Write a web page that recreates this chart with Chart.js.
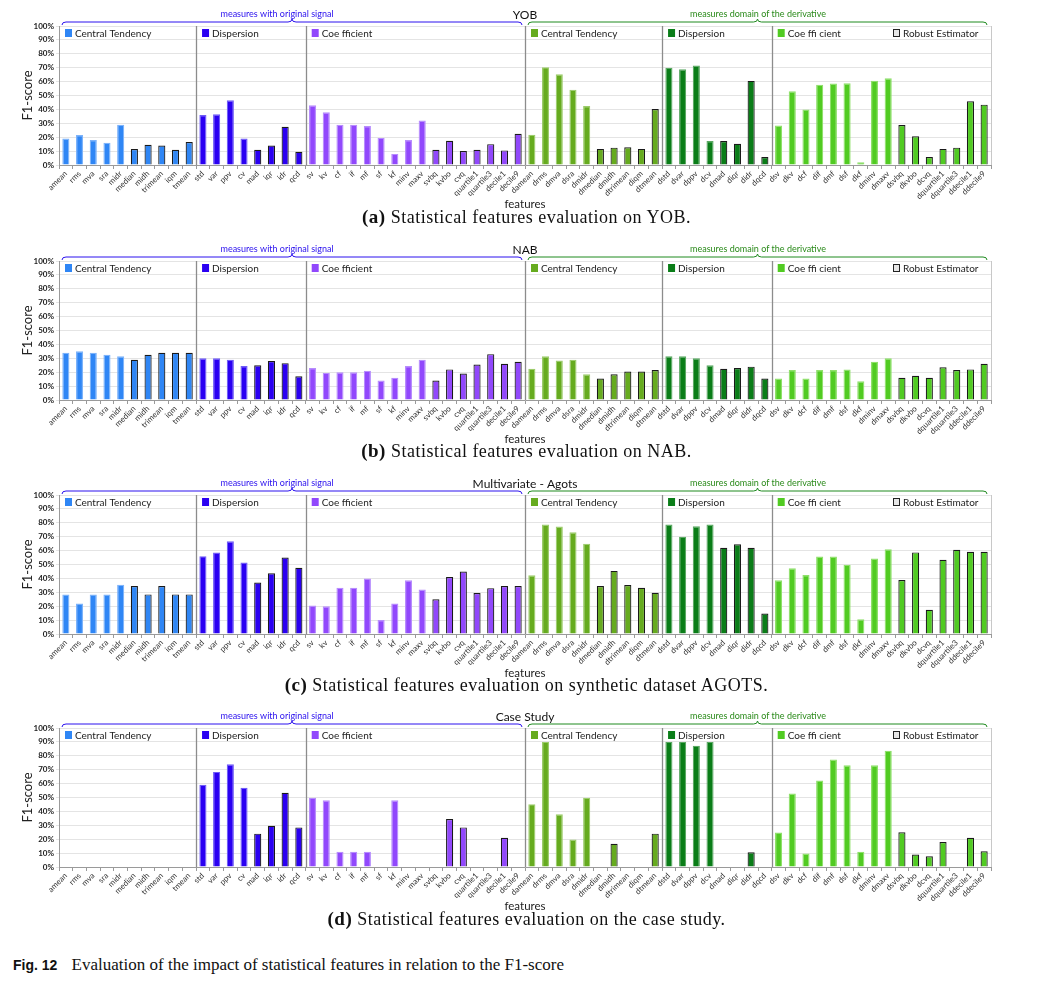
<!DOCTYPE html>
<html>
<head>
<meta charset="utf-8">
<script src="https://cdn.jsdelivr.net/npm/chart.js@4.4.1/dist/chart.umd.min.js"></script>
<style>
  body { margin: 0; background: #fff; }
  #wrap { position: relative; width: 1053px; height: 982px; overflow: hidden; }
  canvas { position: absolute; left: 0; }
  .cap { position: absolute; left: 0; width: 1053px; text-align: center;
         font-family: "Liberation Serif", serif; font-size: 18px; color: #111; letter-spacing: 0.5px; }
  .cap b { font-size: 19px; }
  #fig { position: absolute; left: 13px; top: 955px; font-family: "Liberation Serif", serif; font-size: 17px; color: #111; }
  #fig b { font-family: "Liberation Sans", sans-serif; font-size: 14px; margin-right: 10px; }
</style>
</head>
<body>
<div id="wrap">
  <canvas id="c0" width="1053" height="212" style="top:0px"></canvas>
  <canvas id="c1" width="1053" height="212" style="top:235px"></canvas>
  <canvas id="c2" width="1053" height="212" style="top:469px"></canvas>
  <canvas id="c3" width="1053" height="212" style="top:702px"></canvas>
  <div class="cap" style="top:206px"><b>(a)</b> Statistical features evaluation on YOB.</div>
  <div class="cap" style="top:440px"><b>(b)</b> Statistical features evaluation on NAB.</div>
  <div class="cap" style="top:674px"><b>(c)</b> Statistical features evaluation on synthetic dataset AGOTS.</div>
  <div class="cap" style="top:908px"><b>(d)</b> Statistical features evaluation on the case study.</div>
  <div id="fig"><b>Fig. 12</b> Evaluation of the impact of statistical features in relation to the F1-score</div>
</div>
<script>
// features (original signal), derivative ones get a "d" prefix
const origLabels = ['amean', 'rms', 'mva', 'sra', 'midr', 'median', 'midh', 'trimean', 'iqm', 'tmean',
  'std', 'var', 'ppv', 'cv', 'mad', 'iqr', 'idr', 'qcd',
  'sv', 'kv', 'cf', 'if', 'mf', 'sf', 'kf', 'minv', 'maxv', 'svbq', 'kvbo', 'cvq', 'quartile1', 'quartile3', 'decile1', 'decile9'];
const derivLabels = origLabels.map(l => 'd' + l);
const robustNames = ['median', 'midh', 'trimean', 'iqm', 'tmean', 'mad', 'iqr', 'idr', 'qcd',
  'svbq', 'kvbo', 'cvq', 'quartile1', 'quartile3', 'decile1', 'decile9'];

const sectionNames = ['Central Tendency', 'Dispersion', 'Coe fficient', 'Central Tendency', 'Dispersion', 'Coe ffi cient'];
const sectionSizes = [10, 8, 16, 10, 8, 16];
const sectionColors = ['#2f86f5', '#2a00f2', '#9148fc', '#66ab1f', '#0a7d18', '#51cb22'];
const sectionEdges = ['#7db3fa', '#6f5cf7', '#b78dfd', '#9ccc6b', '#5aa862', '#8fe06a'];

const panelTitles = ['YOB', 'NAB', 'Multivariate - Agots', 'Case Study'];

// F1-score in %
const yobOrig = [19, 21.5, 18, 16, 29, 11.5, 14.5, 14, 11, 16.5,
  36, 36.5, 46.5, 19, 11, 14, 27.5, 9.5,
  43, 38, 29, 29, 28, 19.5, 8, 18, 32, 11, 17.5, 10, 11, 15, 10.5, 22.5];
const yobDeriv = [21.7, 70.4, 65.3, 54.2, 42.4, 11.6, 12.5, 12.8, 11.6, 40.2,
  69.9, 68.9, 71.6, 17.3, 17.3, 15.2, 60.5, 5.8,
  28.4, 53, 40, 57.8, 58.6, 58.8, 1.9, 60.7, 62.4, 28.7, 20.7, 5.8, 11.6, 12.5, 45.8, 43.4];

const nabOrig = [34, 35, 34, 32.5, 31.5, 29, 32.5, 34, 34, 34,
  30, 30, 29, 24.5, 25, 28, 26.5, 17,
  23, 19.5, 20, 20, 21, 14, 16, 24.5, 29, 14, 22, 19, 25.5, 33, 26, 27.5];
const nabDeriv = [22.5, 31.5, 28.5, 29, 18.5, 15.5, 18.5, 20.5, 20.5, 21.5,
  31.5, 31.5, 30, 25, 22.5, 23, 24, 15.5,
  15.5, 21.5, 15.5, 21.5, 21.5, 22, 13.5, 27.5, 30, 16, 17.5, 16, 23.5, 21.5, 22, 26];

const agotsOrig = [28.5, 22, 28.5, 28.5, 35.5, 34.5, 28.5, 34.5, 28.5, 28.5,
  56, 58.7, 66.7, 51.5, 37, 43.7, 55, 47.6,
  20.5, 20, 33.3, 33.3, 40, 10, 22, 38.6, 32, 25, 41, 45, 29.5, 33, 34.5, 34.5];
const agotsDeriv = [42.3, 78.7, 77.3, 73.2, 65, 34.5, 45.4, 35.3, 33.3, 29.7,
  78.7, 70, 77.5, 78.7, 62, 64.5, 62, 14.7,
  38.6, 47.3, 42.5, 55.8, 55.8, 49.8, 10.6, 54.3, 60.9, 38.9, 58.7, 17.4, 53.4, 60.6, 59.2, 59.2];

const caseOrig = [0, 0, 0, 0, 0, 0, 0, 0, 0, 0,
  59.2, 68.4, 73.9, 57, 24, 29.7, 53.4, 28.5,
  49.8, 48, 11, 11, 11, 0, 48, 0, 0, 0, 34.5, 28.5, 0, 0, 21, 0];
const caseDeriv = [45.2, 90, 38, 19.8, 49.8, 0, 16.7, 0, 0, 24,
  90, 90, 87.2, 90, 0, 0, 10.6, 0,
  24.9, 52.9, 9.7, 62.3, 77.3, 73.2, 11, 73.2, 83.6, 25, 9, 7.7, 18, 0, 21, 11.3];

const panelValues = [
  yobOrig.concat(yobDeriv),
  nabOrig.concat(nabDeriv),
  agotsOrig.concat(agotsDeriv),
  caseOrig.concat(caseDeriv)
];

const labels = origLabels.concat(derivLabels);
const sectionOf = [];
sectionSizes.forEach((n, s) => { for (let i = 0; i < n; i++) sectionOf.push(s); });
const isRobust = labels.map(l => robustNames.includes(l) || (l[0] === 'd' && robustNames.includes(l.slice(1))));

function drawBrace(ctx, x0, x1, y, color) {
  const mid = (x0 + x1) / 2;
  ctx.beginPath();
  ctx.moveTo(x0, y + 3);
  ctx.quadraticCurveTo(x0, y, x0 + 4, y);
  ctx.lineTo(mid - 4, y);
  ctx.quadraticCurveTo(mid, y, mid, y - 3);
  ctx.quadraticCurveTo(mid, y, mid + 4, y);
  ctx.lineTo(x1 - 4, y);
  ctx.quadraticCurveTo(x1, y, x1, y + 3);
  ctx.strokeStyle = color;
  ctx.lineWidth = 1;
  ctx.stroke();
}

// separators, section labels, braces, titles
const decor = {
  id: 'decor',
  beforeDatasetsDraw(chart) {
    const { ctx, chartArea: a, scales: { x } } = chart;
    ctx.save();
    ctx.strokeStyle = '#8c8c8c';
    ctx.lineWidth = 1.3;
    let idx = 0;
    sectionSizes.slice(0, -1).forEach(n => {
      idx += n;
      const px = Math.round((x.getPixelForValue(idx - 1) + x.getPixelForValue(idx)) / 2) + 0.5;
      ctx.beginPath(); ctx.moveTo(px, a.top); ctx.lineTo(px, a.bottom); ctx.stroke();
    });
    ctx.strokeStyle = '#c8c8c8';
    ctx.lineWidth = 1;
    ctx.beginPath(); ctx.moveTo(a.right + 0.5, a.top); ctx.lineTo(a.right + 0.5, a.bottom); ctx.stroke();
    ctx.restore();
  },
  afterDraw(chart, args, opts) {
    const { ctx, chartArea: a, scales: { x } } = chart;
    const edge = i => i === 0 ? a.left : (x.getPixelForValue(i - 1) + x.getPixelForValue(i)) / 2;
    ctx.save();
    ctx.font = '10px Lato, "Open Sans", sans-serif';
    ctx.textBaseline = 'middle';
    let idx = 0;
    sectionSizes.forEach((n, s) => {
      const px = edge(idx) + 6;
      ctx.fillStyle = sectionColors[s];
      ctx.fillRect(px, a.top + 3, 7, 8);
      ctx.fillStyle = '#222';
      ctx.fillText(sectionNames[s], px + 10, a.top + 7.5);
      idx += n;
    });
    // robust estimator key
    ctx.fillStyle = '#e6e6e6';
    ctx.fillRect(893, a.top + 3, 7, 8);
    ctx.strokeStyle = '#222';
    ctx.lineWidth = 1;
    ctx.strokeRect(893.5, a.top + 3.5, 6, 7);
    ctx.fillStyle = '#222';
    ctx.fillText('Robust Estimator', 903, a.top + 7.5);

    // braces
    const split = edge(34);
    drawBrace(ctx, a.left + 3, split - 3, a.top - 4, '#2a10ee');
    drawBrace(ctx, split + 3, a.right - 4, a.top - 4, '#1f8a1f');
    ctx.textAlign = 'center';
    ctx.font = '9px Lato, "Open Sans", sans-serif';
    ctx.fillStyle = '#2a10ee';
    ctx.fillText('measures with original signal', (a.left + split) / 2 - 15, a.top - 12);
    ctx.fillStyle = '#2a8a1a';
    ctx.fillText('measures domain of the derivative', (split + a.right) / 2, a.top - 12);
    // panel title
    ctx.fillStyle = '#111';
    ctx.font = '12px Lato, "Open Sans", sans-serif';
    ctx.fillText(opts.title, split, a.top - 11);
    // axis titles
    ctx.font = '11.5px Lato, "Open Sans", sans-serif';
    ctx.fillStyle = '#222';
    ctx.fillText('features', split, 204);
    ctx.translate(28, (a.top + a.bottom) / 2);
    ctx.rotate(-Math.PI / 2);
    ctx.font = '13px Lato, "Open Sans", sans-serif';
    ctx.fillText('F1-score', 0, 0);
    ctx.restore();
  }
};

function makeChart(id, values, title) {
  return new Chart(document.getElementById(id), {
    type: 'bar',
    data: {
      labels: labels,
      datasets: [{
        data: values,
        backgroundColor: labels.map((l, i) => sectionColors[sectionOf[i]]),
        borderColor: labels.map((l, i) => isRobust[i] ? '#1a1a1a' : sectionEdges[sectionOf[i]]),
        borderWidth: ctx => ctx.raw > 0 ? 1.2 : 0,
        categoryPercentage: 1,
        barPercentage: 0.52
      }]
    },
    options: {
      responsive: false,
      animation: false,
      devicePixelRatio: 1,
      layout: { padding: { top: 26, right: 62, left: 0, bottom: 0 } },
      plugins: { legend: { display: false }, tooltip: { enabled: false }, decor: { title: title } },
      scales: {
        x: {
          afterFit: s => { s.height = 47; },
          grid: { offset: true, drawOnChartArea: false, drawTicks: true, tickLength: 4, color: '#9a9a9a' },
          border: { color: '#9a9a9a' },
          ticks: {
            autoSkip: false, maxRotation: 45, minRotation: 45, padding: 0,
            color: '#333', font: { size: 8, family: 'Lato, "Open Sans", sans-serif' }
          }
        },
        y: {
          min: 0, max: 100,
          afterFit: s => { s.width = 59; },
          grid: { color: '#e4e4e4', lineWidth: 1, tickLength: 3 },
          border: { color: '#9a9a9a' },
          ticks: {
            stepSize: 10, padding: 2, color: '#222',
            font: { size: 8, weight: 'bold', family: 'Lato, "Open Sans", sans-serif' },
            callback: v => v + '%'
          }
        }
      }
    },
    plugins: [decor]
  });
}

panelValues.forEach((vals, k) => makeChart('c' + k, vals, panelTitles[k]));
</script>
</body>
</html>
